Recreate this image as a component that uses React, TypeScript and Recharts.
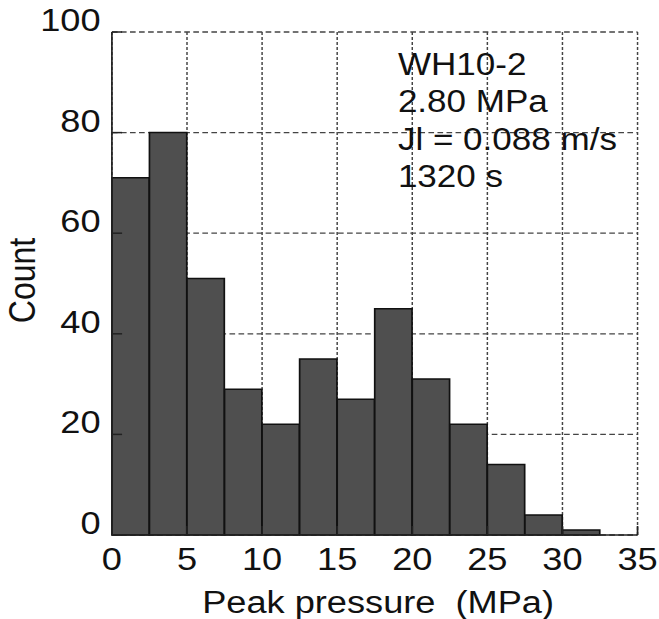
import React from 'react';
import { BarChart, Bar, XAxis, YAxis, CartesianGrid, Customized, Label } from 'recharts';

// Histogram of peak pressure: bins of 2.5 MPa
const binCenters = [1.25, 3.75, 6.25, 8.75, 11.25, 13.75, 16.25, 18.75, 21.25, 23.75, 26.25, 28.75, 31.25];
const counts = [71, 80, 51, 29, 22, 35, 27, 45, 31, 22, 14, 4, 1];
const xTicks = [0, 5, 10, 15, 20, 25, 30, 35];
const yTicks = [0, 20, 40, 60, 80, 100];
const annotationLines = ['WH10-2', '2.80 MPa', 'Jl = 0.088 m/s', '1320 s'];
const xTitle = 'Peak pressure\u00A0\u00A0(MPa)';
const yTitle = 'Count';

const data = binCenters.map((c, i) => ({ center: c, count: counts[i] }));

const FONT = '"Liberation Sans", Arial, Helvetica, sans-serif';
const STRETCH = 1.1304;
const W = 583;
const H = 619;
const AXIS = { stroke: '#222', strokeWidth: 1.5 };

const XTick = (props: any) => (
  <text x={props.x} y={props.y} textAnchor="middle" fontFamily={FONT} fontSize={32} fill="#111">
    {props.payload.value}
  </text>
);

const YTick = (props: any) => (
  <text x={props.x} y={props.y - 1} textAnchor="end" fontFamily={FONT} fontSize={32} fill="#111">
    {props.payload.value}
  </text>
);

const XTitle = (props: any) => {
  const vb = props.viewBox || { x: 99, y: 535, width: 465, height: 84 };
  return (
    <text
      x={vb.x + vb.width / 2 + 3}
      y={vb.y + vb.height - 6}
      textAnchor="middle"
      fontFamily={FONT}
      fontSize={32}
      fill="#111"
    >
      {xTitle}
    </text>
  );
};

const YTitle = (props: any) => {
  const vb = props.viewBox || { x: 0, y: 32, width: 99, height: 503 };
  const cx = vb.x + 31;
  const cy = vb.y + vb.height / 2 - 3;
  return (
    <text
      transform={`translate(${cx}, ${cy}) rotate(-90)`}
      textAnchor="middle"
      fontFamily={FONT}
      fontSize={32}
      fill="#111"
    >
      {yTitle}
    </text>
  );
};

const Annotation = () => (
  <g>
    {annotationLines.map((line, i) => (
      <text key={i} x={352} y={75 + 37.5 * i} fontFamily={FONT} fontSize={31} fill="#111">
        {line}
      </text>
    ))}
  </g>
);

export default function App() {
  return (
    <div
      style={{
        position: 'absolute',
        left: 0,
        top: 0,
        width: W,
        height: H,
        transform: `scaleX(${STRETCH})`,
        transformOrigin: '0 0',
        background: '#fff',
      }}
    >
      <BarChart
        width={W}
        height={H}
        data={data}
        margin={{ top: 32, right: 19, bottom: 0, left: 0 }}
        barCategoryGap={0}
        barGap={0}
      >
        <CartesianGrid horizontal={false} stroke="#444" strokeWidth={1.3} strokeDasharray="3 2" />
        <CartesianGrid vertical={false} stroke="#444" strokeWidth={1.3} strokeDasharray="5 3" />
        <Bar dataKey="count" fill="#4f4f4f" stroke="#111" strokeWidth={1.5} isAnimationActive={false} />
        <XAxis
          dataKey="center"
          type="number"
          domain={[0, 35]}
          ticks={xTicks}
          interval={0}
          height={84}
          axisLine={AXIS}
          tickLine={AXIS}
          tickSize={-9}
          tickMargin={44}
          tick={<XTick />}
        >
          <Label content={<XTitle />} />
        </XAxis>
        <XAxis
          xAxisId="top"
          orientation="top"
          dataKey="center"
          type="number"
          domain={[0, 35]}
          ticks={xTicks}
          interval={0}
          height={0}
          axisLine={AXIS}
          tickLine={AXIS}
          tickSize={-9}
          tick={false}
        />
        <YAxis
          type="number"
          domain={[0, 100]}
          ticks={yTicks}
          interval={0}
          width={99}
          axisLine={AXIS}
          tickLine={AXIS}
          tickSize={-9}
          tickMargin={19}
          tick={<YTick />}
        >
          <Label content={<YTitle />} />
        </YAxis>
        <YAxis
          yAxisId="right"
          orientation="right"
          type="number"
          domain={[0, 100]}
          ticks={yTicks}
          interval={0}
          width={0}
          axisLine={AXIS}
          tickLine={AXIS}
          tickSize={-9}
          tick={false}
        />
        <Customized component={Annotation} />
      </BarChart>
    </div>
  );
}
